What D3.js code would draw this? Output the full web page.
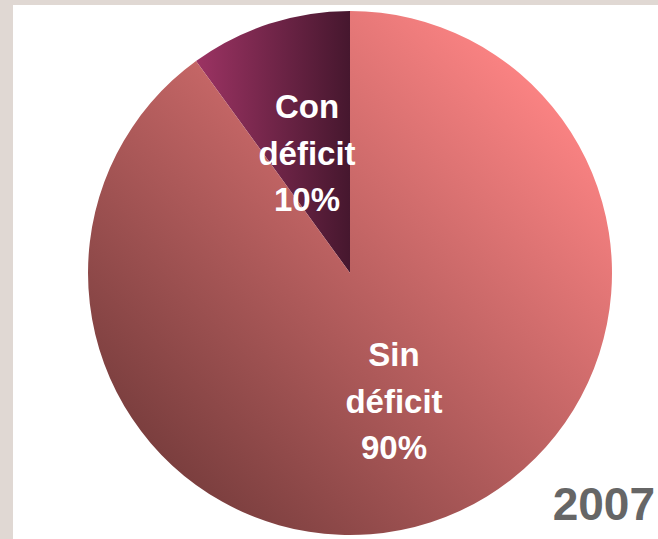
<!DOCTYPE html>
<html><head><meta charset="utf-8">
<script src="https://cdn.jsdelivr.net/npm/d3@7"></script>
<style>html,body{margin:0;padding:0;background:#fff;}svg{display:block;}</style>
</head><body>
<svg id="c" width="658" height="539"></svg>
<script>
const categories = ["Con\ndéficit", "Sin\ndéficit"];
const values = [10, 90];
const pctLabels = ["10%", "90%"];
const yearLabel = "2007";

const W = 658, H = 539;
const svg = d3.select("#c");
// frame
svg.append("rect").attr("x",0).attr("y",0).attr("width",W).attr("height",H).attr("fill","#e0d8d3");
svg.append("rect").attr("x",13).attr("y",5).attr("width",W-13).attr("height",H-5).attr("fill","#ffffff");

const cx = 350, cy = 273, r = 262;
const defs = svg.append("defs");
const g1 = defs.append("linearGradient").attr("id","gCon").attr("gradientUnits","userSpaceOnUse")
  .attr("x1", -r*Math.sin(Math.PI/5)).attr("y1", 0).attr("x2", 0).attr("y2", 0);
g1.append("stop").attr("offset","0").attr("stop-color","#9c3363");
g1.append("stop").attr("offset","1").attr("stop-color","#46172e");
const g2 = defs.append("linearGradient").attr("id","gSin").attr("gradientUnits","userSpaceOnUse")
  .attr("x1", r*0.72).attr("y1", -r*0.72).attr("x2", -r*0.72).attr("y2", r*0.72);
g2.append("stop").attr("offset","0").attr("stop-color","#fb8383");
g2.append("stop").attr("offset","1").attr("stop-color","#7a3e3e");
const fills = ["url(#gCon)", "url(#gSin)"];

const pie = d3.pie().sort(null).startAngle(-2*Math.PI*values[0]/d3.sum(values)).endAngle(2*Math.PI - 2*Math.PI*values[0]/d3.sum(values));
const arcs = pie(values);
const arc = d3.arc().innerRadius(0).outerRadius(r);
const g = svg.append("g").attr("transform", `translate(${cx},${cy})`);
g.selectAll("path").data(arcs).join("path").attr("d", arc).attr("fill", (d,i)=>fills[i]);

// labels
const labelPos = [[307-cx, 118-cy], [394-cx, 366-cy]];
arcs.forEach((d,i)=>{
  const lines = categories[i].split("\n").concat([pctLabels[i]]);
  const t = g.append("text").attr("text-anchor","middle").attr("fill","#fff")
    .attr("font-family","Liberation Sans, Arial, sans-serif").attr("font-weight","bold").attr("font-size",33);
  lines.forEach((ln,j)=>{
    t.append("tspan").attr("x", labelPos[i][0]).attr("y", labelPos[i][1] + j*46.5).text(ln);
  });
});

svg.append("text").attr("x", 655).attr("y", 520).attr("text-anchor","end")
  .attr("font-family","Liberation Sans, Arial, sans-serif").attr("font-weight","bold")
  .attr("font-size",46).attr("fill","#666666").text(yearLabel);
</script>
</body></html>
